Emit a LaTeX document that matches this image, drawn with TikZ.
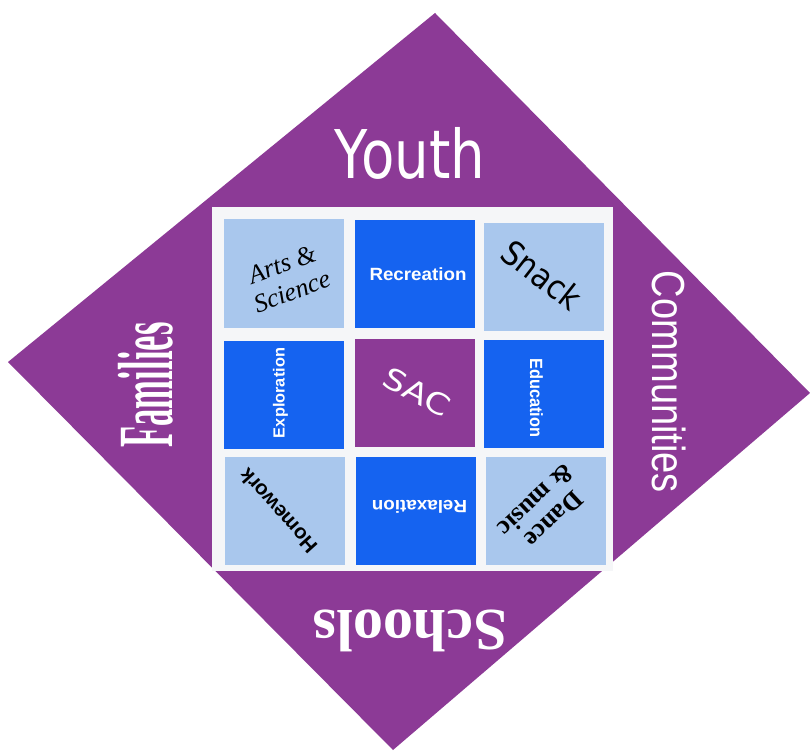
\documentclass[tikz,border=0pt]{standalone}
\usepackage{fontspec}
\usepackage{graphicx}
\setmainfont{Liberation Sans}
\newfontfamily\seriffont{Liberation Serif}
\newfontfamily\roundfont{DejaVu Sans}
\definecolor{sacpurple}{RGB}{140,58,150}
\definecolor{tilelight}{RGB}{169,199,237}
\definecolor{tileblue}{RGB}{21,99,240}
\definecolor{gridwhite}{RGB}{245,246,248}
\newcommand{\fitword}[3]{\resizebox*{#1pt}{#2pt}{#3}}

\begin{document}
\begin{tikzpicture}[x=1pt,y=-1pt]
\tikzstyle{tile} = [rectangle, inner sep=0pt, minimum width=120pt, minimum height=108pt]
\tikzstyle{word} = [inner sep=0pt, text=white]
\tikzstyle{inkword} = [inner sep=0pt, text=black, align=center]
\useasboundingbox (0,0) rectangle (810,751);

%outer diamond
\coordinate (top) at (435,13);
\coordinate (right) at (810,393);
\coordinate (bottom) at (393,750);
\coordinate (left) at (8,362);
\fill[sacpurple] (top) -- (right) -- (bottom) -- (left) -- cycle;

%the four sides
\node[word] (youth) at (410,153) {\fitword{150}{52}{\roundfont Youth}};
\node[word, rotate=90] (families) at (146,385) {\fitword{125}{55}{\seriffont\bfseries Families}};
\node[word, rotate=-90] (communities) at (669,382) {\fitword{222}{34}{Communities}};
\node[word, rotate=180] (schools) at (410,631) {\fitword{194}{42}{\seriffont\bfseries Schools}};

%grid
\node[rectangle, fill=gridwhite, inner sep=0pt, minimum width=401pt, minimum height=364pt] (grid) at (412.5,389) {};

\foreach \name/\x/\y/\col in {arts/283.5/273.5/tilelight, recreation/414.5/274/tileblue, snack/544/277/tilelight,
    exploration/283.5/394.5/tileblue, sac/414.5/393/sacpurple, education/543.5/394/tileblue,
    homework/285/511/tilelight, relaxation/415.5/511/tileblue, dance/545.5/511/tilelight}
  	\node[tile, fill=\col] (\name) at (\x,\y) {};

%tile labels
\node[inkword, rotate=20, font=\seriffont\itshape\fontsize{26}{29}\selectfont] (arts-text) at (287,278) {Arts \&\\Science};
\node[word] (recreation-text) at (418,274.5) {\fitword{97}{13}{\bfseries Recreation}};
\node[inkword, rotate=-38] (snack-text) at (542,275) {\fitword{90}{26}{\roundfont Snack}};
\node[word, rotate=90] (exploration-text) at (280.5,393) {\fitword{90}{15}{\bfseries Exploration}};
\node[word, rotate=-28] (sac-text) at (417,392) {\fitword{72}{22}{\roundfont SAC}};
\node[word, rotate=-90] (education-text) at (536.5,398) {\fitword{79}{13}{\bfseries Education}};
\node[inkword, rotate=132] (homework-text) at (278,511) {\fitword{105}{15}{\bfseries Homework}};
\node[word, rotate=180] (relaxation-text) at (419.5,506.5) {\fitword{95}{13}{\bfseries Relaxation}};
\node[inkword, rotate=223, font=\seriffont\bfseries\fontsize{26}{26}\selectfont] (dance-text) at (545,510) {Dance\\\& music};
\end{tikzpicture}
\end{document}
